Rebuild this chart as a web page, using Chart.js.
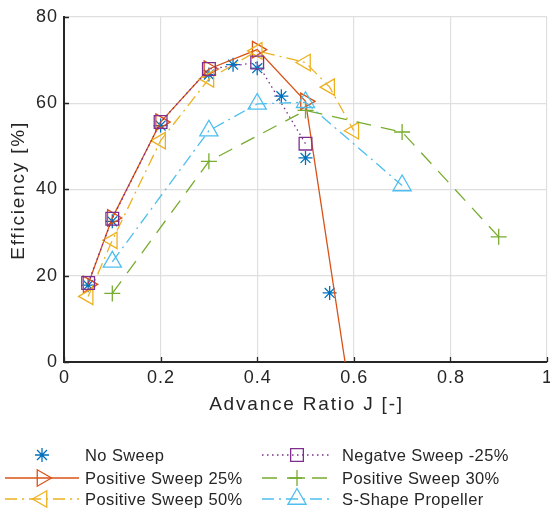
<!DOCTYPE html>
<html>
<head>
<meta charset="utf-8">
<script src="https://cdn.jsdelivr.net/npm/chart.js@4"></script>
<style>
  html, body { margin: 0; padding: 0; background: #fff; }
  #wrap { width: 550px; height: 512px; }
</style>
</head>
<body>
<div id="wrap"><canvas id="effChart" width="550" height="512"></canvas></div>
<script>
// advance ratio J and efficiency [%] per propeller
const noSweepJ   = [0.05, 0.1, 0.2, 0.3, 0.35, 0.4, 0.45, 0.5, 0.55];
const noSweepEff = [17.8, 32.6, 54.8, 66.6, 68.9, 68.1, 61.6, 47.3, 16.0];

const pos25J   = [0.05, 0.1, 0.2, 0.3, 0.4, 0.5, 0.6];
const pos25Eff = [18.0, 33.4, 55.6, 67.9, 72.4, 60.4, -13.4];

const pos50J   = [0.05, 0.1, 0.2, 0.3, 0.4, 0.5, 0.55, 0.6];
const pos50Eff = [15.2, 28.2, 51.3, 65.6, 72.1, 69.4, 63.7, 53.6];

const negJ   = [0.05, 0.1, 0.2, 0.3, 0.4, 0.5];
const negEff = [18.3, 33.2, 55.6, 67.9, 69.4, 50.6];

const pos30J   = [0.1, 0.3, 0.5, 0.7, 0.9];
const pos30Eff = [15.9, 46.5, 58.3, 53.3, 29.0];

const sShapeJ   = [0.1, 0.3, 0.4, 0.5, 0.7];
const sShapeEff = [23.2, 53.6, 59.8, 60.2, 40.9];

const xTicks = [0, 0.2, 0.4, 0.6, 0.8, 1];
const yTicks = [0, 20, 40, 60, 80];
const xTitle = 'Advance Ratio J [-]';
const yTitle = 'Efficiency [%]';

const ink = '#262626';
const FONT = "'Liberation Sans', Arial, sans-serif";

function pts(xs, ys) {
  return xs.map((x, i) => ({x: x, y: ys[i]}));
}

function series(label, xs, ys, color, style, opts) {
  return Object.assign({
    label: label,
    data: pts(xs, ys),
    borderColor: color,
    backgroundColor: color,
    borderWidth: 1.3,
    pointStyle: style,
    pointRadius: 8,
    pointHoverRadius: 8,
    pointBorderWidth: 1.3,
    pointBorderColor: color,
    pointBackgroundColor: 'rgba(0,0,0,0)',
    pointRotation: 0,
    tension: 0,
    fill: false,
    clip: {left: 12, right: 12, top: 12, bottom: 0}
  }, opts);
}

const datasets = [
  series('No Sweep', noSweepJ, noSweepEff, '#0072BD', 'star', {showLine: false, pointRadius: 7}),
  series('Positive Sweep 25%', pos25J, pos25Eff, '#D95319', 'triangle', {pointRotation: 90, pointRadius: 9.5}),
  series('Positive Sweep 50%', pos50J, pos50Eff, '#EDB120', 'triangle', {pointRotation: -90, pointRadius: 9.5, borderDash: [12, 5, 2, 5]}),
  series('Negatve Sweep -25%', negJ, negEff, '#7E2F8E', 'rect', {pointRadius: 9, borderDash: [1.5, 3.5]}),
  series('Positive Sweep 30%', pos30J, pos30Eff, '#77AC30', 'cross', {pointRadius: 8, borderDash: [15, 10]}),
  series('S-Shape Propeller', sShapeJ, sShapeEff, '#4DBEEE', 'triangle', {pointRadius: 10.5, borderDash: [12, 5, 2, 5]})
];
// later series sit on top
datasets.forEach((d, i) => { d.order = datasets.length - i; });

// tick labels are a little spaced out
const axisText = {
  id: 'axisText',
  beforeDraw(chart) { chart.ctx.letterSpacing = '1px'; },
  beforeDatasetsDraw(chart) { chart.ctx.letterSpacing = '0px'; }
};

// inward tick marks, x tick labels (allowed to hang off the edge) and axis titles
const axisDecor = {
  id: 'axisDecor',
  afterDatasetsDraw(chart) {
    const {ctx, chartArea: a, scales: {x, y}} = chart;
    ctx.save();
    ctx.strokeStyle = ink;
    ctx.lineWidth = 1.3;
    ctx.beginPath();
    xTicks.forEach(v => {
      const px = Math.round(x.getPixelForValue(v)) + 0.5;
      ctx.moveTo(px, a.bottom);
      ctx.lineTo(px, a.bottom - 5);
    });
    yTicks.forEach(v => {
      const py = Math.round(y.getPixelForValue(v)) + 0.5;
      ctx.moveTo(a.left, py);
      ctx.lineTo(a.left + 5, py);
    });
    ctx.stroke();

    ctx.fillStyle = ink;
    ctx.textAlign = 'center';
    ctx.textBaseline = 'middle';
    ctx.font = '18px ' + FONT;
    ctx.letterSpacing = '1px';
    xTicks.forEach(v => {
      ctx.fillText(String(v), x.getPixelForValue(v) + 0.5, a.bottom + 16);
    });

    ctx.font = '19px ' + FONT;
    ctx.letterSpacing = '1.8px';
    ctx.fillText(xTitle, (a.left + a.right) / 2 + 1, 405);
    ctx.translate(19, (a.top + a.bottom) / 2 + 1);
    ctx.rotate(-Math.PI / 2);
    ctx.fillText(yTitle, 0, 0);
    ctx.restore();
  }
};

function drawMarker(ctx, ds, cx, cy) {
  const o = {pointStyle: ds.pointStyle, rotation: ds.pointRotation, radius: ds.pointRadius, borderWidth: ds.pointBorderWidth};
  ctx.strokeStyle = ds.pointBorderColor;
  ctx.fillStyle = 'rgba(0,0,0,0)';
  ctx.lineWidth = ds.pointBorderWidth;
  ctx.setLineDash([]);
  Chart.helpers.drawPoint(ctx, o, cx, cy);
}

// two-column legend with long line samples under the plot
const sampleLegend = {
  id: 'sampleLegend',
  afterDraw(chart) {
    const ctx = chart.ctx;
    const cols = [{x0: 5, x1: 79, tx: 85}, {x0: 262, x1: 332, tx: 342}];
    const rows = [455, 478, 499];
    ctx.save();
    chart.data.datasets.forEach((ds, i) => {
      const c = cols[Math.floor(i / 3)];
      const yy = rows[i % 3];
      if (ds.showLine !== false) {
        ctx.strokeStyle = ds.borderColor;
        ctx.lineWidth = ds.borderWidth;
        ctx.setLineDash(ds.borderDash || []);
        ctx.beginPath();
        ctx.moveTo(c.x0, yy);
        ctx.lineTo(c.x1, yy);
        ctx.stroke();
      }
      drawMarker(ctx, ds, (c.x0 + c.x1) / 2, yy);
      ctx.fillStyle = ink;
      ctx.font = '16.5px ' + FONT;
      ctx.letterSpacing = '0.4px';
      ctx.textBaseline = 'middle';
      ctx.textAlign = 'left';
      ctx.fillText(ds.label, c.tx, yy + 1);
      ctx.letterSpacing = '0px';
    });
    ctx.restore();
  }
};

new Chart(document.getElementById('effChart'), {
  type: 'line',
  data: {datasets: datasets},
  options: {
    responsive: false,
    animation: false,
    events: [],
    layout: {autoPadding: false, padding: {top: 16, bottom: 92, left: 0, right: 3}},
    plugins: {legend: {display: false}, tooltip: {enabled: false}},
    scales: {
      x: {
        type: 'linear',
        min: 0,
        max: 1,
        afterBuildTicks: s => { s.ticks = xTicks.map(v => ({value: v})); },
        afterFit: s => { s.height = 58; },
        grid: {color: '#dfdfdf', lineWidth: 1.2, drawTicks: false},
        border: {display: true, color: ink, width: 2},
        ticks: {display: false}
      },
      y: {
        type: 'linear',
        min: 0,
        max: 80,
        afterBuildTicks: s => { s.ticks = yTicks.map(v => ({value: v})); },
        afterFit: s => { s.width = 64; },
        grid: {color: '#dfdfdf', lineWidth: 1.2, drawTicks: false},
        border: {display: true, color: ink, width: 2},
        ticks: {color: ink, padding: 6, font: {family: FONT, size: 18}, callback: v => String(v)}
      }
    }
  },
  plugins: [axisText, axisDecor, sampleLegend]
});
</script>
</body>
</html>
